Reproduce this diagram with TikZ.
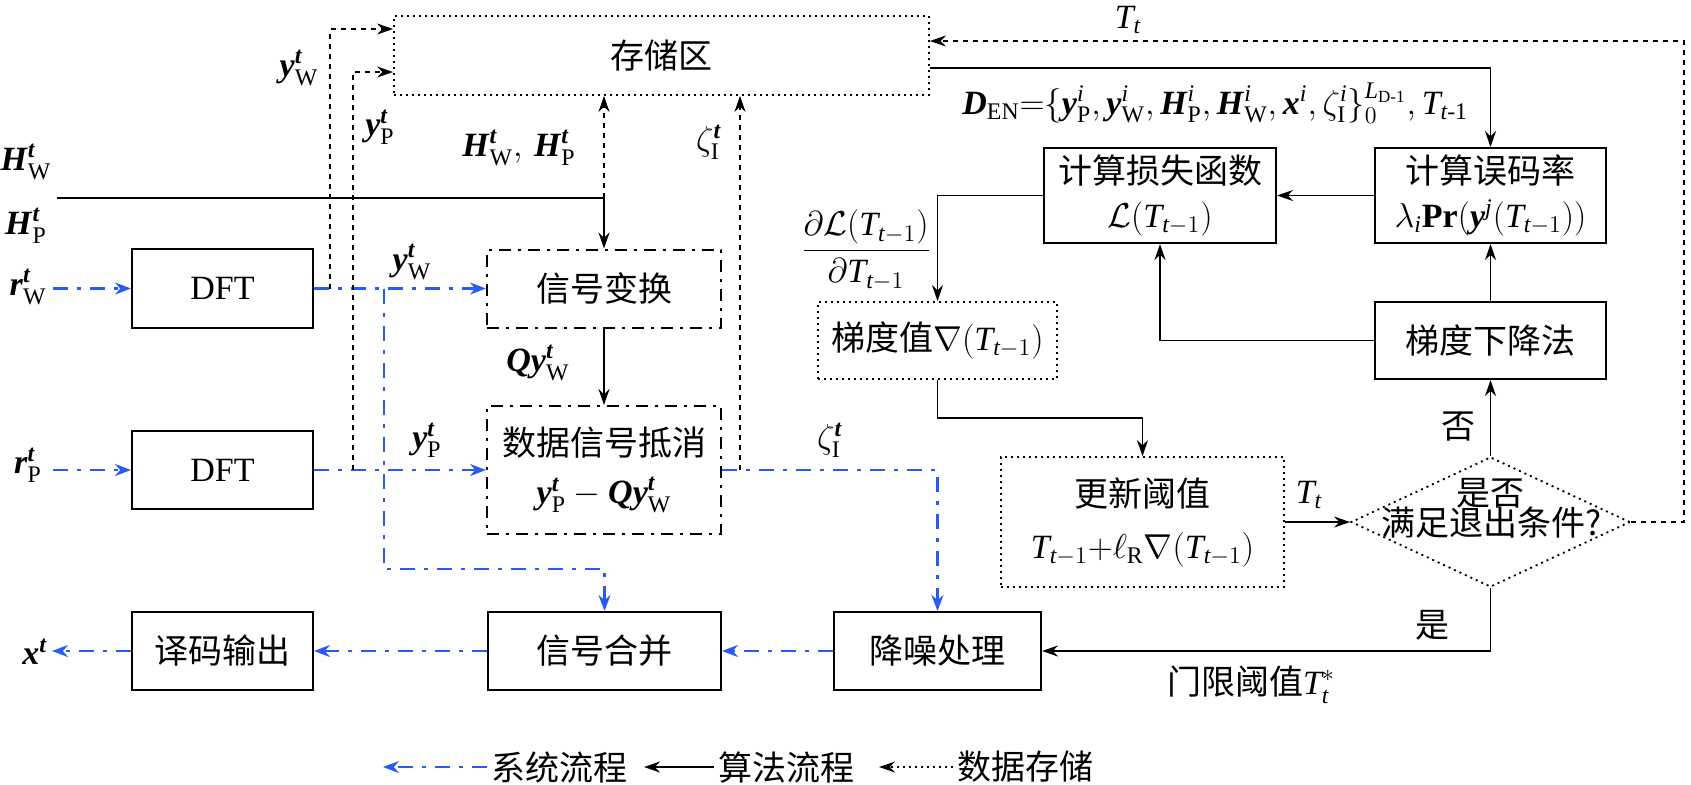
\documentclass[tikz,border=0pt]{standalone}
\usepackage{amsmath}
\usepackage{fontspec}
\setmainfont{Liberation Serif}
\newfontfamily\cjk{Noto Sans CJK SC}
\usetikzlibrary{arrows.meta,shapes.geometric}
\definecolor{sysblue}{RGB}{40,90,245}
\newcommand\bvar[1]{\textbf{\textit{#1}}}
\begin{document}
\begin{tikzpicture}[x=0.5pt,y=-0.5pt,
  every node/.style={font=\fontsize{17}{22}\selectfont},
  box/.style={draw, line width=1pt, inner sep=0pt, align=center},
  dbox/.style={box, dash pattern=on 6pt off 3.5pt on 1.5pt off 3.5pt},
  obox/.style={box, line width=0.9pt, dash pattern=on 1pt off 2pt},
  sys/.style={color=sysblue, line width=1.1pt, dash pattern=on 7.5pt off 4.5pt on 2pt off 4.5pt, -{Stealth[length=8pt,width=6pt]}},
  alg/.style={line width=0.9pt, -{Stealth[length=8pt,width=5.5pt]}},
  dat/.style={line width=0.8pt, dash pattern=on 2.5pt off 2.5pt, -{Stealth[length=8pt,width=5.5pt]}},
  datdot/.style={line width=0.9pt, dash pattern=on 1pt off 2pt, -{Stealth[length=8pt,width=5.5pt]}},
  lab/.style={inner sep=1pt}
]
\useasboundingbox (0,0) rectangle (1691,784);

% boxes
\node[obox,minimum width=267.5pt,minimum height=39.5pt] (store) at (661.5,55.5) {\cjk 存储区};
\node[box,minimum width=90.5pt,minimum height=39.5pt] (dft1) at (222.5,288.5) {DFT};
\node[box,minimum width=90.5pt,minimum height=39pt] (dft2) at (222.5,470) {DFT};
\node[dbox,minimum width=117pt,minimum height=39pt] (xhbh) at (604,288.5) {\cjk 信号变换};
\node[dbox,minimum width=117pt,minimum height=64pt] (sjxh) at (604,470) {{\cjk 数据信号抵消}\\[2pt] $\bvar{y}^{\bvar{t}}_{\text{P}}-\bvar{Qy}^{\bvar{t}}_{\text{W}}$};
\node[box,minimum width=116pt,minimum height=47.5pt] (ssh) at (1160,195.5) {{\cjk 计算损失函数}\\ $\mathcal{L}(\textit{T}_{\textit{t}-1})$};
\node[box,minimum width=115.5pt,minimum height=47.5pt] (wml) at (1490.5,195.5) {{\cjk 计算误码率}\\ $\lambda_{\textit{i}}\textbf{Pr}(\bvar{y}^{\textit{j}}(\textit{T}_{\textit{t}-1}))$};
\node[obox,minimum width=119.5pt,minimum height=38.5pt] (tdz) at (937.5,340.5) {{\cjk 梯度值}$\nabla(\textit{T}_{\textit{t}-1})$};
\node[box,minimum width=115.5pt,minimum height=38.5pt] (tdxj) at (1490.5,340.5) {\cjk 梯度下降法};
\node[obox,minimum width=141.5pt,minimum height=65pt] (gxyz) at (1142.5,522) {{\cjk 更新阈值}\\[4pt] $\textit{T}_{\textit{t}-1}{+}\ell_{\text{R}}\nabla(\textit{T}_{\textit{t}-1})$};
\node[obox,diamond,minimum width=139.5pt,minimum height=65pt] (dia) at (1490.5,522) {};
\node[lab] (dia1) at (1490,493) {\cjk 是否};
\node[lab] (dia2) at (1492,523) {\cjk 满足退出条件?};
\node[box,minimum width=103.5pt,minimum height=39pt] (jzcl) at (937.5,651) {\cjk 降噪处理};
\node[box,minimum width=116.5pt,minimum height=39pt] (xhhb) at (604.5,651) {\cjk 信号合并};
\node[box,minimum width=90.5pt,minimum height=39pt] (ymsc) at (222.5,651) {\cjk 译码输出};

% coordinates
\coordinate (rWs) at (53,288.5);
\coordinate (rPs) at (53,470);
\coordinate (br1) at (384,288.5);
\coordinate (br2) at (384,569);
\coordinate (d1) at (330,288.5);
\coordinate (d1t) at (330,29);
\coordinate (d2) at (353,470);
\coordinate (d2t) at (353,72);
\coordinate (hs) at (57,198);
\coordinate (zj) at (740,470);
\coordinate (rt) at (1684,41);
\coordinate (y68) at (0,68);
\coordinate (k1) at (937.5,418);
\coordinate (xo) at (52,651);

% system flow
\draw[sys] (rWs) -- (dft1.west);
\draw[sys] (rPs) -- (dft2.west);
\draw[sys] (dft1.east) -- (xhbh.west);
\draw[sys] (dft2.east) -- (sjxh.west);
\draw[sys] (br1) -- (br2) -| (xhhb.north);
\draw[sys] (sjxh.east) -| (jzcl.north);
\draw[sys] (jzcl.west) -- (xhhb.east);
\draw[sys] (xhhb.west) -- (ymsc.east);
\draw[sys] (ymsc.west) -- (xo);

% data storage
\draw[dat] (d1) -- (d1t) -- (d1t -| store.west);
\draw[dat] (d2) -- (d2t) -- (d2t -| store.west);
\draw[dat] (xhbh.north |- hs) -- (xhbh.north |- store.south);
\draw[dat] (zj) -- (zj |- store.south);
\draw[dat] (dia.east) -| (rt) -- (rt -| store.east);

% algorithm flow
\draw[alg] (hs) -| (xhbh.north);
\draw[alg] (xhbh.south) -- (sjxh.north);
\draw[alg] (store.east |- y68) -| (wml.north);
\draw[alg] (wml.west) -- (ssh.east);
\draw[alg] (ssh.west) -| (tdz.north);
\draw[alg] (tdz.south) -- (k1) -| (gxyz.north);
\draw[alg] (gxyz.east) -- (dia.west);
\draw[alg] (dia.north) -- (tdxj.south);
\draw[alg] (tdxj.north) -- (wml.south);
\draw[alg] (tdxj.west) -| (ssh.south);
\draw[alg] (dia.south) |- (jzcl.east);

% labels
\node[lab] (lHW) at (26,162) {$\bvar{H}^{\bvar{t}}_{\text{W}}$};
\node[lab] (lHP) at (26,226) {$\bvar{H}^{\bvar{t}}_{\text{P}}$};
\node[lab] (lrW) at (28,287) {$\bvar{r}^{\bvar{t}}_{\text{W}}$};
\node[lab] (lrP) at (28,465) {$\bvar{r}^{\bvar{t}}_{\text{P}}$};
\node[lab] (lx) at (35,652) {$\bvar{x}^{\bvar{t}}$};
\node[lab] (lyW1) at (299,68) {$\bvar{y}^{\bvar{t}}_{\text{W}}$};
\node[lab] (lyP1) at (380,127) {$\bvar{y}^{\bvar{t}}_{\text{P}}$};
\node[lab] (lH) at (519,148) {$\bvar{H}^{\bvar{t}}_{\text{W}},\,\bvar{H}^{\bvar{t}}_{\text{P}}$};
\node[lab] (lz1) at (709,142) {$\zeta^{\bvar{t}}_{\text{I}}$};
\node[lab] (lyW2) at (412,262) {$\bvar{y}^{\bvar{t}}_{\text{W}}$};
\node[lab] (lyP2) at (427,440) {$\bvar{y}^{\bvar{t}}_{\text{P}}$};
\node[lab] (lQ) at (538,363) {$\bvar{Qy}^{\bvar{t}}_{\text{W}}$};
\node[lab] (lz2) at (830,440) {$\zeta^{\bvar{t}}_{\text{I}}$};
\node[lab] (lTt) at (1128,20) {$\textit{T}_{\textit{t}}$};
\node[lab,anchor=west] (lD) at (960,103) {$\bvar{D}_{\text{EN}}{=}\{\bvar{y}^{\textit{i}}_{\text{P}}, \bvar{y}^{\textit{i}}_{\text{W}}, \bvar{H}^{\textit{i}}_{\text{P}}, \bvar{H}^{\textit{i}}_{\text{W}}, \bvar{x}^{\textit{i}}, \zeta^{\textit{i}}_{\text{I}}\}^{\textit{L}_{\text{D-1}}}_{0}, \textit{T}_{\textit{t}\text{-1}}$};
\node[lab] (lfr) at (866,250) {$\dfrac{\partial\mathcal{L}(\textit{T}_{\textit{t}-1})}{\partial \textit{T}_{\textit{t}-1}}$};
\node[lab] (lTt2) at (1309,495) {$\textit{T}_{\textit{t}}$};
\node[lab] (lno) at (1458,427) {\cjk 否};
\node[lab] (lyes) at (1432,625) {\cjk 是};
\node[lab] (lthr) at (1251,685) {{\cjk 门限阈值}$\textit{T}^{*}_{\textit{t}}$};

% legend
\node[anchor=west,inner sep=2pt] (lg1) at (487,767) {\cjk 系统流程};
\coordinate (lg1a) at (383,767);
\draw[sys] (lg1.west) -- (lg1a);
\node[anchor=west,inner sep=2pt] (lg2) at (714,767) {\cjk 算法流程};
\coordinate (lg2a) at (644,767);
\draw[alg] (lg2.west) -- (lg2a);
\node[anchor=west,inner sep=2pt] (lg3) at (953,767) {\cjk 数据存储};
\coordinate (lg3a) at (879,767);
\draw[datdot] (lg3.west) -- (lg3a);
\end{tikzpicture}
\end{document}
